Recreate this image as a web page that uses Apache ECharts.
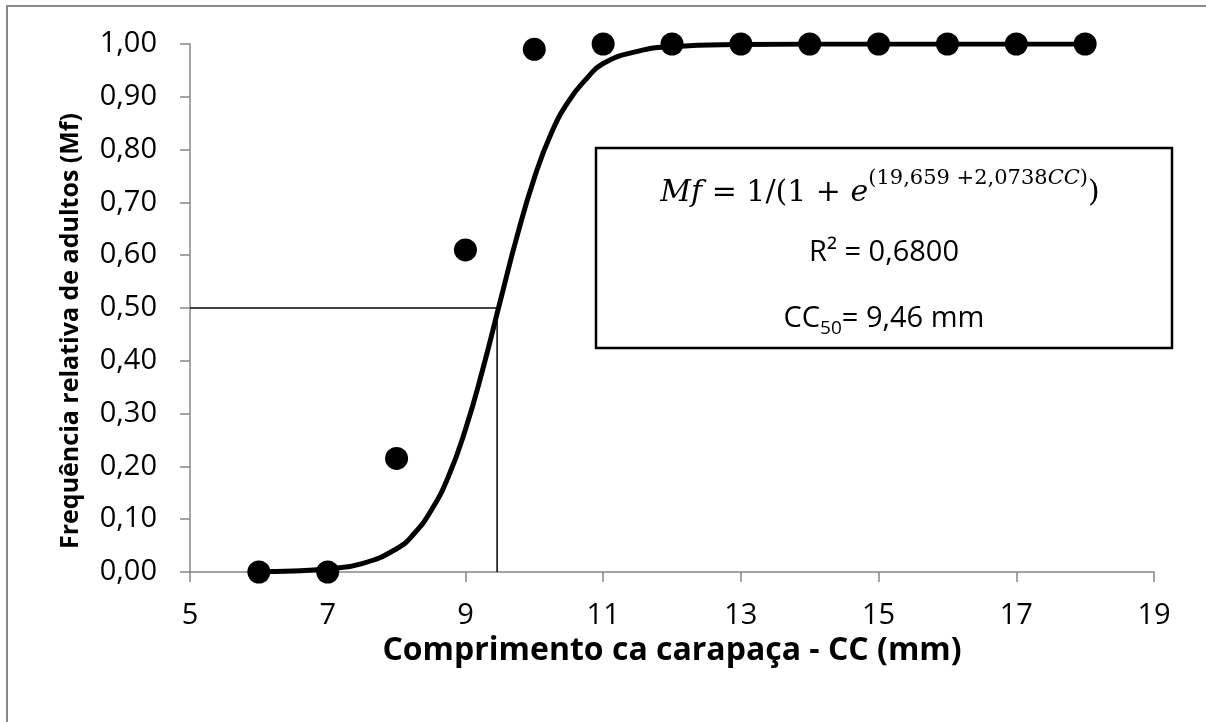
<!DOCTYPE html>
<html>
<head>
<meta charset="utf-8">
<script src="https://cdn.jsdelivr.net/npm/echarts@6/dist/echarts.min.js"></script>
<style>
  html, body { margin: 0; padding: 0; background: #ffffff; }
  #chart { width: 1206px; height: 722px; }
</style>
</head>
<body>
<div id="chart"></div>
<script>
// Observed proportion of adults by carapace length
const obsLength = [6, 7, 8, 9, 10, 11, 12, 13, 14, 15, 16, 17, 18];
const obsFreq   = [0, 0, 0.215, 0.61, 0.99, 1, 1, 1, 1, 1, 1, 1, 1];

// Fitted logistic curve, sampled points
const fitLength = [6, 6.5, 7, 7.5, 8, 8.25, 8.5, 8.75, 9, 9.25, 9.5, 9.75, 10, 10.25, 10.5, 10.75, 11, 11.5, 12, 13, 14, 15, 16, 17, 18];
const fitFreq   = [0.001, 0.002, 0.006, 0.016, 0.044, 0.072, 0.116, 0.18, 0.27, 0.383, 0.51, 0.636, 0.746, 0.832, 0.892, 0.933, 0.963, 0.986, 0.995, 0.999, 1, 1, 1, 1, 1];

// Length at 50% maturity (CC50)
const cc50 = 9.46;
const halfLevel = 0.5;

// Axis ranges and titles
const xMin = 5, xMax = 19, xStep = 2;
const yMin = 0, yMax = 1, yStep = 0.1;
const xTitle = 'Comprimento ca carapaça - CC (mm)';
const yTitle = 'Frequência relativa de adultos (Mf)';

const FONT = 'Open Sans';
const MATH_FONT = 'DejaVu Serif';
const AXIS_GRAY = '#868686';

const chart = echarts.init(document.getElementById('chart'), null, { renderer: 'canvas' });

const pairs = (xs, ys) => xs.map((x, i) => [x, ys[i]]);

chart.setOption({
  backgroundColor: '#ffffff',
  animation: false,
  grid: { left: 190, right: 52, top: 44, bottom: 150, containLabel: false },
  xAxis: {
    type: 'value',
    min: xMin, max: xMax, interval: xStep,
    name: xTitle,
    nameLocation: 'middle',
    nameGap: 58,
    nameTextStyle: { fontFamily: FONT, fontWeight: 'bold', fontSize: 32, color: '#000' },
    axisLine: { onZero: false, lineStyle: { color: AXIS_GRAY, width: 1.5 } },
    axisTick: { show: true, inside: false, length: 10, lineStyle: { color: AXIS_GRAY, width: 1.5 } },
    axisLabel: { fontFamily: FONT, fontSize: 29, color: '#000', margin: 29 },
    splitLine: { show: false }
  },
  yAxis: {
    type: 'value',
    min: yMin, max: yMax, interval: yStep,
    axisLine: { show: true, lineStyle: { color: AXIS_GRAY, width: 1.5 } },
    axisTick: { show: true, inside: false, length: 10, lineStyle: { color: AXIS_GRAY, width: 1.5 } },
    axisLabel: {
      fontFamily: FONT, fontSize: 29, color: '#000', margin: 33,
      formatter: v => v.toFixed(2).replace('.', ',')
    },
    splitLine: { show: false }
  },
  series: [
    {
      name: 'CC50 horizontal',
      type: 'line',
      data: [[xMin, halfLevel], [cc50, halfLevel]],
      symbol: 'none',
      lineStyle: { color: '#000', width: 1.5 },
      z: 2
    },
    {
      name: 'CC50 vertical',
      type: 'line',
      data: [[cc50, yMin], [cc50, halfLevel]],
      symbol: 'none',
      lineStyle: { color: '#000', width: 1.5 },
      z: 2
    },
    {
      name: 'Ajuste logístico',
      type: 'line',
      data: pairs(fitLength, fitFreq),
      smooth: true,
      symbol: 'none',
      lineStyle: { color: '#000', width: 5 },
      z: 3
    },
    {
      name: 'Observado',
      type: 'scatter',
      data: pairs(obsLength, obsFreq),
      symbol: 'circle',
      symbolSize: 23,
      itemStyle: { color: '#000', opacity: 1 },
      z: 4
    }
  ],
  graphic: [
    // outer chart frame
    {
      type: 'rect',
      shape: { x: 7, y: 6, width: 1230, height: 760 },
      style: { fill: 'none', stroke: '#898989', lineWidth: 2 },
      silent: true, z: 0
    },
    // vertical axis title
    {
      type: 'text',
      x: 71, y: 331,
      rotation: Math.PI / 2,
      style: {
        text: yTitle,
        fontFamily: FONT, fontWeight: 'bold', fontSize: 25, fill: '#000',
        align: 'center', verticalAlign: 'middle'
      },
      z: 11
    },
    // equation box
    {
      type: 'rect',
      shape: { x: 596, y: 148, width: 576, height: 200 },
      style: { fill: '#ffffff', stroke: '#000', lineWidth: 2.5 },
      z: 10
    },
    {
      type: 'text',
      x: 880, y: 188,
      style: {
        text: '{i|Mf}{n| = 1/(1 + }{i|e}{sup|(19,659 +2,0738}{supi|CC}{sup|)}{n|)}',
        align: 'center', verticalAlign: 'middle',
        rich: {
          i: { fontFamily: MATH_FONT, fontStyle: 'italic', fontSize: 30, color: '#000', verticalAlign: 'bottom', lineHeight: 40 },
          n: { fontFamily: MATH_FONT, fontSize: 30, color: '#000', verticalAlign: 'bottom', lineHeight: 40 },
          sup: { fontFamily: MATH_FONT, fontSize: 21, color: '#000', verticalAlign: 'top', lineHeight: 21 },
          supi: { fontFamily: MATH_FONT, fontStyle: 'italic', fontSize: 21, color: '#000', verticalAlign: 'top', lineHeight: 21 }
        }
      },
      z: 11
    },
    {
      type: 'text',
      x: 884, y: 253,
      style: {
        text: 'R² = 0,6800',
        fontFamily: FONT, fontSize: 29, fill: '#000',
        align: 'center', verticalAlign: 'middle'
      },
      z: 11
    },
    {
      type: 'text',
      x: 884, y: 321,
      style: {
        text: '{n|CC}{sub|50}{n|= 9,46 mm}',
        align: 'center', verticalAlign: 'middle',
        rich: {
          n: { fontFamily: FONT, fontSize: 29, color: '#000', verticalAlign: 'top', lineHeight: 34 },
          sub: { fontFamily: FONT, fontSize: 19, color: '#000', verticalAlign: 'bottom', lineHeight: 19 }
        }
      },
      z: 11
    }
  ]
});
</script>
</body>
</html>
